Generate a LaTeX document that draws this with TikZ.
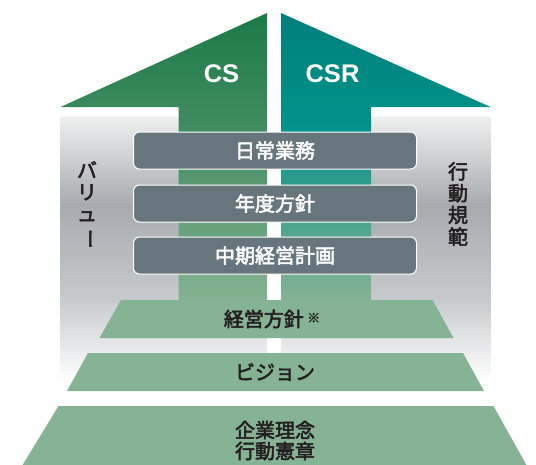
\documentclass[tikz,border=0pt]{standalone}
\usepackage{fontspec}
\newfontfamily\jp{Noto Sans CJK JP}[BoldFont={Noto Sans CJK JP}, BoldFeatures={FakeBold=2.6}]
\newfontfamily\lat{Liberation Sans}
\definecolor{boxgray}{HTML}{66767C}
\definecolor{lgreen}{HTML}{86B393}
\definecolor{txt}{HTML}{231F20}
\definecolor{cstop}{HTML}{1B7A47}
\definecolor{csmid}{HTML}{3F8B5F}
\definecolor{csrtop}{HTML}{007F7C}
\definecolor{csrmid}{HTML}{00928A}
\definecolor{gA}{HTML}{EEEFEF}
\definecolor{gB}{HTML}{A7ABAF}
\definecolor{gC}{HTML}{C8CBCD}
\pgfdeclareverticalshading{csshade}{100bp}{color(0bp)=(lgreen); color(25bp)=(lgreen); color(56bp)=(csmid); color(75bp)=(cstop); color(100bp)=(cstop)}
\pgfdeclareverticalshading{csrshade}{100bp}{color(0bp)=(lgreen); color(25bp)=(lgreen); color(56bp)=(csrmid); color(75bp)=(csrtop); color(100bp)=(csrtop)}
\tikzset{
  planbox/.style={draw=white, line width=1pt, fill=boxgray, rounded corners=6pt},
  boxtext/.style={text=white, font=\jp\bfseries\fontsize{20}{22}\selectfont, inner sep=0pt},
  basetext/.style={text=txt, font=\jp\bfseries\fontsize{20}{22}\selectfont, inner sep=0pt},
  sidetext/.style={text=txt, font=\jp\bfseries\fontsize{20}{21.8}\selectfont, inner sep=0pt, align=center},
  arrowtext/.style={text=white, font=\lat\bfseries\fontsize{25.5}{28}\selectfont, inner sep=0pt},
  layer/.style={fill=lgreen}
}
\begin{document}
\begin{tikzpicture}[x=1pt,y=-1pt]
\useasboundingbox (0,0) rectangle (536,464);
% gray background
\shade[top color=white, bottom color=gA] (60.5,115) rectangle (490.5,118);
\shade[top color=gA, bottom color=gB] (60.5,117.5) rectangle (490.5,205.5);
\shade[top color=gB, bottom color=gC] (60.5,205) rectangle (490.5,300.5);
\shade[top color=gC, bottom color=white] (60.5,300) rectangle (490.5,380);
% white gap
\fill[white] (267,100) rectangle (281,395);
% arrows
\shade[shading=csshade] (267,13) -- (60.5,107) -- (178.5,107) -- (178.5,302) -- (267,302) -- cycle;
\shade[shading=csrshade] (281,13) -- (490.5,107) -- (371,107) -- (371,302) -- (281,302) -- cycle;
\node[arrowtext] (cs) at (221.5,74) {CS};
\node[arrowtext] (csr) at (332.5,74) {CSR};
% plan boxes
\draw[planbox] (133.5,132) rectangle (416.5,169);
\draw[planbox] (133.5,185) rectangle (416.5,222);
\draw[planbox] (133.5,237) rectangle (416.5,274);
\node[boxtext] (daily) at (275,150.5) {日常業務};
\node[boxtext] (annual) at (275,203.5) {年度方針};
\node[boxtext] (midterm) at (275,255.5) {中期経営計画};
% foundation layers
\fill[layer] (121,300) -- (432.5,300) -- (453.5,338) -- (99.5,338) -- cycle;
\fill[layer] (88,353) -- (463,353) -- (484,391) -- (67,391) -- cycle;
\fill[layer] (58.5,406) -- (493.5,406) -- (527,466) -- (22,466) -- cycle;
\node[basetext] (policy) at (272,319) {経営方針\,\raisebox{4pt}{\fontsize{13}{14}\selectfont ※}};
\node[basetext] (vision) at (275,372) {ビジョン};
\node[basetext] (phil) at (275,430) {企業理念};
\node[basetext] (charter) at (275,451) {行動憲章};
% side labels
\node[sidetext] (value) at (87,205) {バ\\リ\\ュ\\\rotatebox[origin=c]{-90}{ー}};
\node[sidetext] (conduct) at (458,204) {行\\動\\規\\範};
\end{tikzpicture}
\end{document}
